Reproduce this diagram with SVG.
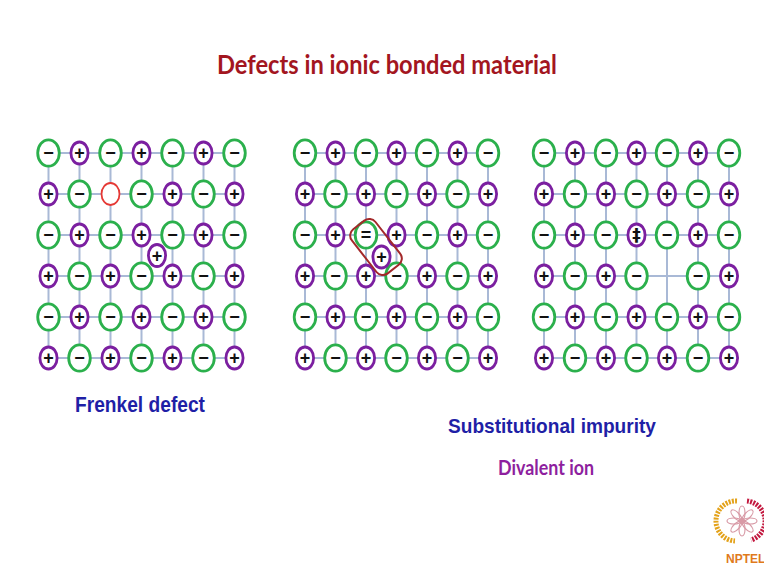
<svg xmlns="http://www.w3.org/2000/svg" xmlns:xlink="http://www.w3.org/1999/xlink" width="764" height="576" viewBox="0 0 764 576">
  <style>
    .bond { stroke: #A9B9D6; stroke-width: 2; fill: none; }
    .ring-an { fill: #FFFFFF; stroke: #2BB04C; stroke-width: 2.8; }
    .ring-ca { fill: #FFFFFF; stroke: #7B1FA0; stroke-width: 2.8; }
    .ring-vac { fill: #FFFFFF; stroke: #E53935; stroke-width: 1.8; }
    .sg { font-family: "Liberation Sans", Arial, sans-serif; font-weight: bold; font-size: 18px; fill: #111111; text-anchor: middle; }
    .title { font-family: Lato, "Open Sans", sans-serif; font-weight: bold; font-size: 26px; fill: #A3161F; }
    .label { font-family: "Liberation Sans", Arial, sans-serif; font-weight: bold; fill: #1F1FA6; }
    .sub { font-family: Lato, "Open Sans", sans-serif; font-weight: bold; font-size: 20px; fill: #8E1F9E; }
  </style>
  <defs>
    <!-- anion: large green ring with minus sign -->
    <g id="an"><ellipse rx="10.8" ry="13.2" class="ring-an"/><text class="sg" y="6">−</text></g>
    <!-- cation: small purple ring with plus sign -->
    <g id="ca"><ellipse rx="8.6" ry="11" class="ring-ca"/><text class="sg" y="6">+</text></g>
  </defs>

  <rect width="764" height="576" fill="#FFFFFF"/>

  <text class="title" x="217" y="74" textLength="340" lengthAdjust="spacingAndGlyphs">Defects in ionic bonded material</text>

  <!-- lattice bonds -->
  <g id="connectors">
    <path class="bond" d="M48.5 153H234.5M48.5 194H234.5M48.5 235H234.5M48.5 276H234.5M48.5 317H234.5M48.5 358H234.5
      M48.5 153V358M79.5 153V358M110.5 153V358M141.5 153V358M172.5 153V358M203.5 153V358M234.5 153V358"/>
    <path class="bond" d="M305 153H488M305 194H488M305 235H488M305 276H488M305 317H488M305 358H488
      M305 153V358M335.5 153V358M366 153V358M396.5 153V358M427 153V358M457.5 153V358M488 153V358"/>
    <path class="bond" d="M544 153H729M544 194H729M544 235H729M544 276H729M544 317H729M544 358H729
      M544 153V358M575 153V358M606 153V358M636.5 153V358M667 153V358M698 153V358M729 153V358"/>
  </g>

  <!-- Frenkel defect lattice -->
  <g id="frenkel">
    <use id="f11" href="#an" x="48.5" y="153"/><use id="f12" href="#ca" x="79.5" y="153"/><use id="f13" href="#an" x="110.5" y="153"/><use id="f14" href="#ca" x="141.5" y="153"/><use id="f15" href="#an" x="172.5" y="153"/><use id="f16" href="#ca" x="203.5" y="153"/><use id="f17" href="#an" x="234.5" y="153"/>
    <use id="f21" href="#ca" x="48.5" y="194"/><use id="f22" href="#an" x="79.5" y="194"/>
    <g id="f23"><ellipse cx="110.5" cy="194" rx="9" ry="11" class="ring-vac"/></g>
    <use id="f24" href="#an" x="141.5" y="194"/><use id="f25" href="#ca" x="172.5" y="194"/><use id="f26" href="#an" x="203.5" y="194"/><use id="f27" href="#ca" x="234.5" y="194"/>
    <use id="f31" href="#an" x="48.5" y="235"/><use id="f32" href="#ca" x="79.5" y="235"/><use id="f33" href="#an" x="110.5" y="235"/><use id="f34" href="#ca" x="141.5" y="235"/><use id="f35" href="#an" x="172.5" y="235"/><use id="f36" href="#ca" x="203.5" y="235"/><use id="f37" href="#an" x="234.5" y="235"/>
    <use id="f41" href="#ca" x="48.5" y="276"/><use id="f42" href="#an" x="79.5" y="276"/><use id="f43" href="#ca" x="110.5" y="276"/><use id="f44" href="#an" x="141.5" y="276"/><use id="f45" href="#ca" x="172.5" y="276"/><use id="f46" href="#an" x="203.5" y="276"/><use id="f47" href="#ca" x="234.5" y="276"/>
    <use id="f51" href="#an" x="48.5" y="317"/><use id="f52" href="#ca" x="79.5" y="317"/><use id="f53" href="#an" x="110.5" y="317"/><use id="f54" href="#ca" x="141.5" y="317"/><use id="f55" href="#an" x="172.5" y="317"/><use id="f56" href="#ca" x="203.5" y="317"/><use id="f57" href="#an" x="234.5" y="317"/>
    <use id="f61" href="#ca" x="48.5" y="358"/><use id="f62" href="#an" x="79.5" y="358"/><use id="f63" href="#ca" x="110.5" y="358"/><use id="f64" href="#an" x="141.5" y="358"/><use id="f65" href="#ca" x="172.5" y="358"/><use id="f66" href="#an" x="203.5" y="358"/><use id="f67" href="#ca" x="234.5" y="358"/>
    <!-- displaced cation in interstitial site -->
    <use id="f-int" href="#ca" x="157" y="255.5"/>
  </g>

  <!-- substitutional impurity lattice (divalent anion + interstitial cation) -->
  <g id="subst">
    <use id="s11" href="#an" x="305" y="153"/><use id="s12" href="#ca" x="335.5" y="153"/><use id="s13" href="#an" x="366" y="153"/><use id="s14" href="#ca" x="396.5" y="153"/><use id="s15" href="#an" x="427" y="153"/><use id="s16" href="#ca" x="457.5" y="153"/><use id="s17" href="#an" x="488" y="153"/>
    <use id="s21" href="#ca" x="305" y="194"/><use id="s22" href="#an" x="335.5" y="194"/><use id="s23" href="#ca" x="366" y="194"/><use id="s24" href="#an" x="396.5" y="194"/><use id="s25" href="#ca" x="427" y="194"/><use id="s26" href="#an" x="457.5" y="194"/><use id="s27" href="#ca" x="488" y="194"/>
    <use id="s31" href="#an" x="305" y="235"/><use id="s32" href="#ca" x="335.5" y="235"/>
    <g id="s33"><ellipse cx="366" cy="235" rx="10.8" ry="13.2" class="ring-an"/><text class="sg" x="366" y="241">=</text></g>
    <use id="s34" href="#ca" x="396.5" y="235"/><use id="s35" href="#an" x="427" y="235"/><use id="s36" href="#ca" x="457.5" y="235"/><use id="s37" href="#an" x="488" y="235"/>
    <use id="s41" href="#ca" x="305" y="276"/><use id="s42" href="#an" x="335.5" y="276"/><use id="s43" href="#ca" x="366" y="276"/><use id="s44" href="#an" x="396.5" y="276"/><use id="s45" href="#ca" x="427" y="276"/><use id="s46" href="#an" x="457.5" y="276"/><use id="s47" href="#ca" x="488" y="276"/>
    <use id="s51" href="#an" x="305" y="317"/><use id="s52" href="#ca" x="335.5" y="317"/><use id="s53" href="#an" x="366" y="317"/><use id="s54" href="#ca" x="396.5" y="317"/><use id="s55" href="#an" x="427" y="317"/><use id="s56" href="#ca" x="457.5" y="317"/><use id="s57" href="#an" x="488" y="317"/>
    <use id="s61" href="#ca" x="305" y="358"/><use id="s62" href="#an" x="335.5" y="358"/><use id="s63" href="#ca" x="366" y="358"/><use id="s64" href="#an" x="396.5" y="358"/><use id="s65" href="#ca" x="427" y="358"/><use id="s66" href="#an" x="457.5" y="358"/><use id="s67" href="#ca" x="488" y="358"/>
    <use id="s-int" href="#ca" x="381.5" y="257"/>
    <rect id="s-pair" x="-28" y="-15" width="56" height="30" rx="8" transform="translate(376 247) rotate(52)" fill="none" stroke="#A3282A" stroke-width="2"/>
  </g>

  <!-- divalent cation substitution with cation vacancy -->
  <g id="divalent">
    <use id="d11" href="#an" x="544" y="153"/><use id="d12" href="#ca" x="575" y="153"/><use id="d13" href="#an" x="606" y="153"/><use id="d14" href="#ca" x="636.5" y="153"/><use id="d15" href="#an" x="667" y="153"/><use id="d16" href="#ca" x="698" y="153"/><use id="d17" href="#an" x="729" y="153"/>
    <use id="d21" href="#ca" x="544" y="194"/><use id="d22" href="#an" x="575" y="194"/><use id="d23" href="#ca" x="606" y="194"/><use id="d24" href="#an" x="636.5" y="194"/><use id="d25" href="#ca" x="667" y="194"/><use id="d26" href="#an" x="698" y="194"/><use id="d27" href="#ca" x="729" y="194"/>
    <use id="d31" href="#an" x="544" y="235"/><use id="d32" href="#ca" x="575" y="235"/><use id="d33" href="#an" x="606" y="235"/>
    <g id="d34"><ellipse cx="636.5" cy="235" rx="8.6" ry="11" class="ring-ca"/><text x="636.5" y="241" font-family="DejaVu Sans, sans-serif" font-weight="bold" font-size="17" fill="#111111" text-anchor="middle">‡</text></g>
    <use id="d35" href="#an" x="667" y="235"/><use id="d36" href="#ca" x="698" y="235"/><use id="d37" href="#an" x="729" y="235"/>
    <use id="d41" href="#ca" x="544" y="276"/><use id="d42" href="#an" x="575" y="276"/><use id="d43" href="#ca" x="606" y="276"/><use id="d44" href="#an" x="636.5" y="276"/><use id="d46" href="#an" x="698" y="276"/><use id="d47" href="#ca" x="729" y="276"/>
    <use id="d51" href="#an" x="544" y="317"/><use id="d52" href="#ca" x="575" y="317"/><use id="d53" href="#an" x="606" y="317"/><use id="d54" href="#ca" x="636.5" y="317"/><use id="d55" href="#an" x="667" y="317"/><use id="d56" href="#ca" x="698" y="317"/><use id="d57" href="#an" x="729" y="317"/>
    <use id="d61" href="#ca" x="544" y="358"/><use id="d62" href="#an" x="575" y="358"/><use id="d63" href="#ca" x="606" y="358"/><use id="d64" href="#an" x="636.5" y="358"/><use id="d65" href="#ca" x="667" y="358"/><use id="d66" href="#an" x="698" y="358"/><use id="d67" href="#ca" x="729" y="358"/>
  </g>

  <!-- captions -->
  <text class="label" x="75" y="412" font-size="22" textLength="130" lengthAdjust="spacingAndGlyphs">Frenkel defect</text>
  <text class="label" x="448" y="433" font-size="21" textLength="208" lengthAdjust="spacingAndGlyphs">Substitutional impurity</text>
  <text class="sub" x="498" y="475" textLength="96" lengthAdjust="spacingAndGlyphs">Divalent ion</text>

  <!-- NPTEL emblem -->
  <g id="nptel-logo">
    <path d="M737 501 A20 20 0 0 0 735 541" fill="none" stroke="#E3A21A" stroke-width="5" stroke-dasharray="2 1.2"/>
    <path d="M747 501 A20 20 0 0 1 751 540" fill="none" stroke="#C3183F" stroke-width="5" stroke-dasharray="2 1.2"/>
    <g fill="none" stroke="#D89AA6" stroke-width="1.2" transform="translate(742 521)">
      <ellipse cx="0" cy="-8" rx="3" ry="7"/>
      <ellipse cx="0" cy="-8" rx="3" ry="7" transform="rotate(45)"/>
      <ellipse cx="0" cy="-8" rx="3" ry="7" transform="rotate(90)"/>
      <ellipse cx="0" cy="-8" rx="3" ry="7" transform="rotate(135)"/>
      <ellipse cx="0" cy="-8" rx="3" ry="7" transform="rotate(180)"/>
      <ellipse cx="0" cy="-8" rx="3" ry="7" transform="rotate(225)"/>
      <ellipse cx="0" cy="-8" rx="3" ry="7" transform="rotate(270)"/>
      <ellipse cx="0" cy="-8" rx="3" ry="7" transform="rotate(315)"/>
      <circle r="2.5" fill="#D89AA6"/>
    </g>
    <text x="726" y="563" font-family="Liberation Sans, Arial, sans-serif" font-weight="bold" font-size="12" fill="#E07A1C">NPTEL</text>
  </g>
</svg>
